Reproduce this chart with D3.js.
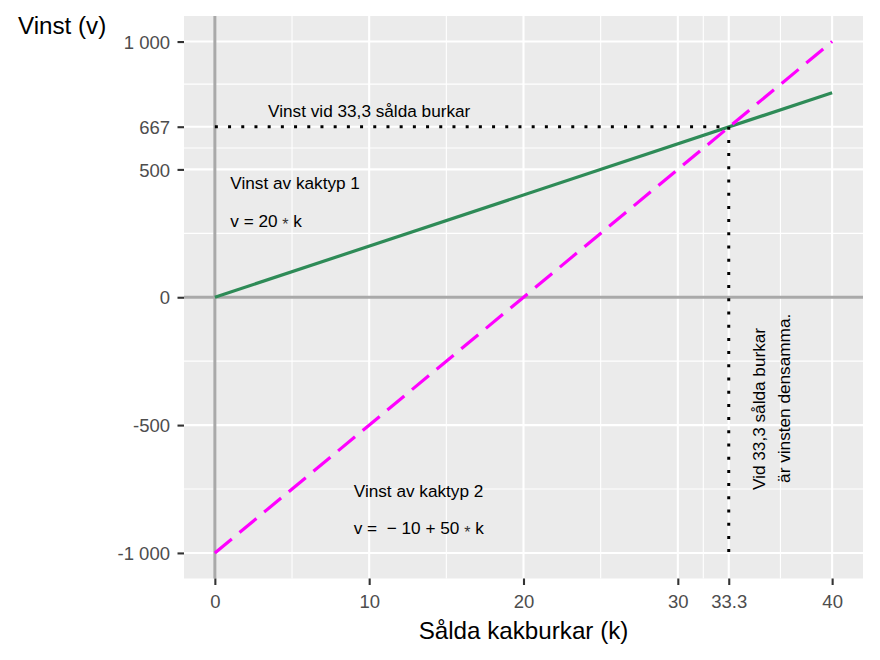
<!DOCTYPE html>
<html>
<head>
<meta charset="utf-8">
<script src="https://cdn.jsdelivr.net/npm/d3@7"></script>
<style>
  body { margin: 0; background: #fff; }
  text { font-family: "Liberation Sans", Arial, sans-serif; }
</style>
</head>
<body>
<div class="container"></div>
<script>
//=================================================
// Data
//=================================================
var kValues = [0, 40];            // sålda kakburkar
var vinst1 = [0, 800];            // v = 20 * k
var vinst2 = [-1000, 1000];       // v = -1000 + 50 * k

var kMeet = 33.3;
var vMeet = 667;

var xTicks = [0, 10, 20, 30, 33.3, 40];
var xTickLabels = ["0", "10", "20", "30", "33.3", "40"];
var xMinor = [5, 15, 25, 31.65, 36.65];

var yTicks = [-1000, -500, 0, 500, 667, 1000];
var yTickLabels = ["-1 000", "-500", "0", "500", "667", "1 000"];
var yMinor = [-750, -250, 250, 583.5, 833.5];

// text pieces, "*" is drawn as a lowered star like in plotmath
var notes = [
  { parts: ["Vinst vid 33,3 sålda burkar"], k: 10, v: 704, anchor: "middle" },
  { parts: ["Vinst av kaktyp 1"], k: 1, v: 423, anchor: "start" },
  { parts: ["v = 20 ", "*", " k"], k: 1, v: 276, anchor: "start" },
  { parts: ["Vinst av kaktyp 2"], k: 9, v: -780, anchor: "start" },
  { parts: ["v =  \u2212 10 + 50 ", "*", " k"], k: 9, v: -927, anchor: "start" }
];
var sideNotes = [
  { text: "Vid 33,3 sålda burkar", k: 35.64, v: -754 },
  { text: "är vinsten densamma.", k: 37.27, v: -726 }
];

//=================================================
// Dimensions
//=================================================
var width = 880,
  height = 660,
  panel = { left: 184, right: 863, top: 16, bottom: 578.5 };

var xScale = d3.scaleLinear().domain([-2, 42]).range([panel.left, panel.right]);
var yScale = d3.scaleLinear().domain([-1100, 1100]).range([panel.bottom, panel.top]);

const svg = d3.select(".container").
append("svg").
attr("width", width).
attr("height", height);

// panel background
svg.append("rect").
attr("x", panel.left).
attr("y", panel.top).
attr("width", panel.right - panel.left).
attr("height", panel.bottom - panel.top).
attr("fill", "#EBEBEB");

//=================================================
// Grid lines
//=================================================
const grid = svg.append("g").attr("stroke", "#fff");

grid.selectAll(".xminor").data(xMinor).enter().append("line").
attr("x1", d => xScale(d)).attr("x2", d => xScale(d)).
attr("y1", panel.top).attr("y2", panel.bottom).
attr("stroke-width", 1.1);

grid.selectAll(".yminor").data(yMinor).enter().append("line").
attr("y1", d => yScale(d)).attr("y2", d => yScale(d)).
attr("x1", panel.left).attr("x2", panel.right).
attr("stroke-width", 1.1);

grid.selectAll(".xmajor").data(xTicks).enter().append("line").
attr("x1", d => xScale(d)).attr("x2", d => xScale(d)).
attr("y1", panel.top).attr("y2", panel.bottom).
attr("stroke-width", 2.1);

grid.selectAll(".ymajor").data(yTicks).enter().append("line").
attr("y1", d => yScale(d)).attr("y2", d => yScale(d)).
attr("x1", panel.left).attr("x2", panel.right).
attr("stroke-width", 2.1);

//=================================================
// Zero lines
//=================================================
svg.append("line").
attr("x1", xScale(0)).attr("x2", xScale(0)).
attr("y1", panel.top).attr("y2", panel.bottom).
attr("stroke", "#A9A9A9").attr("stroke-width", 3);

svg.append("line").
attr("x1", panel.left).attr("x2", panel.right).
attr("y1", yScale(0)).attr("y2", yScale(0)).
attr("stroke", "#A9A9A9").attr("stroke-width", 3);

//=================================================
// Lines
//=================================================
const line = d3.line().
x(d => xScale(d[0])).
y(d => yScale(d[1]));

svg.append("path").
datum(kValues.map((k, i) => [k, vinst1[i]])).
attr("d", line).
attr("fill", "none").
attr("stroke", "#2E8B57").
attr("stroke-width", 3.2);

svg.append("path").
datum(kValues.map((k, i) => [k, vinst2[i]])).
attr("d", line).
attr("fill", "none").
attr("stroke", "#FF00FF").
attr("stroke-width", 3.2).
attr("stroke-dasharray", "22 10");

// dotted guides to the meeting point
svg.append("path").
datum([[0, vMeet], [kMeet, vMeet]]).
attr("d", line).
attr("fill", "none").
attr("stroke", "#000").
attr("stroke-width", 3).
attr("stroke-dasharray", "3 10.2");

svg.append("path").
datum([[kMeet, vMeet], [kMeet, -1000]]).
attr("d", line).
attr("fill", "none").
attr("stroke", "#000").
attr("stroke-width", 3).
attr("stroke-dasharray", "3 10.2");

//=================================================
// Annotations
//=================================================
const noteText = svg.selectAll(".note").data(notes).enter().append("text").
attr("x", d => xScale(d.k)).
attr("y", d => yScale(d.v)).
attr("text-anchor", d => d.anchor).
attr("font-size", 17.2).
attr("fill", "#000").
style("white-space", "pre");

noteText.selectAll("tspan").
data(d => d.parts).
enter().
append("tspan").
attr("dy", (p, i) => p === "*" ? 3.5 : (i > 0 ? -3.5 : 0)).
attr("font-size", p => p === "*" ? 16 : null).
attr("fill", p => p === "*" ? "#333" : null).
text(p => p);

svg.selectAll(".side").data(sideNotes).enter().append("text").
attr("transform", d => "translate(" + xScale(d.k) + "," + yScale(d.v) + ") rotate(-90)").
attr("font-size", 17.2).
attr("fill", "#000").
text(d => d.text);

//=================================================
// Axes
//=================================================
const xAxis = d3.axisBottom(xScale).
tickValues(xTicks).
tickFormat((d, i) => xTickLabels[i]).
tickSize(6.5).
tickPadding(10);

const yAxis = d3.axisLeft(yScale).
tickValues(yTicks).
tickFormat((d, i) => yTickLabels[i]).
tickSize(6.5).
tickPadding(7.5);

const gx = svg.append("g").
attr("transform", "translate(0," + panel.bottom + ")").
call(xAxis);

const gy = svg.append("g").
attr("transform", "translate(" + panel.left + ",0)").
call(yAxis);

[gx, gy].forEach(g => {
  g.select(".domain").remove();
  g.selectAll(".tick line").attr("stroke", "#333").attr("stroke-width", 2.1);
  g.selectAll(".tick text").
  attr("fill", "#4D4D4D").
  attr("font-size", 18.5).
  attr("font-family", "Liberation Sans, Arial, sans-serif");
});
gy.selectAll(".tick text").attr("dy", "0.36em");

//=================================================
// Titles
//=================================================
svg.append("text").
attr("x", (panel.left + panel.right) / 2).
attr("y", 639).
attr("text-anchor", "middle").
attr("font-size", 24.2).
attr("fill", "#000").
text("Sålda kakburkar (k)");

svg.append("text").
attr("x", 18).
attr("y", 34).
attr("font-size", 24.2).
attr("fill", "#000").
text("Vinst (v)");
</script>
</body>
</html>
